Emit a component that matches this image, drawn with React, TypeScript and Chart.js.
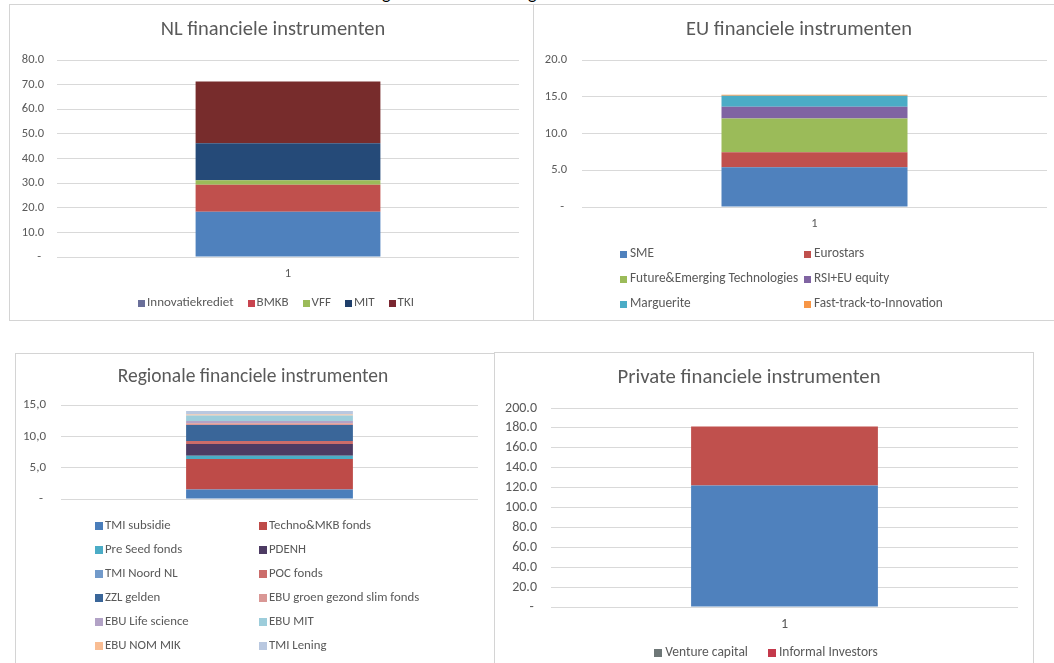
import React, { useEffect, useRef } from "react";
import { Chart, registerables } from "chart.js";

Chart.register(...registerables);

const FONT = "Carlito, Lato, 'Noto Sans', sans-serif";
const TEXT = "#595959";
const GRID = "#d9d9d9";

// ---------- NL financiele instrumenten ----------
const nlCategories = ["1"];
const nlSeries = ["Innovatiekrediet", "BMKB", "VFF", "MIT", "TKI"];
const nlValues = [18.4, 10.9, 1.9, 15.0, 25.1];
const nlBarColors = ["#4f81bd", "#c0504d", "#9bbb59", "#254a78", "#772c2c"];
const nlLegendColors = ["#6a6f9a", "#c8444f", "#9bbb59", "#1f3f6a", "#7a2630"];
const nlAxis = { max: 80, step: 10 };

// ---------- EU financiele instrumenten ----------
const euCategories = ["1"];
const euSeries = [
  "SME",
  "Eurostars",
  "Future&Emerging Technologies",
  "RSI+EU equity",
  "Marguerite",
  "Fast-track-to-Innovation",
];
const euValues = [5.4, 2.05, 4.6, 1.6, 1.48, 0.15];
const euColors = ["#4f81bd", "#c0504d", "#9bbb59", "#8064a2", "#4bacc6", "#f79646"];
const euAxis = { max: 20, step: 5 };

// ---------- Regionale financiele instrumenten ----------
const regCategories = ["1"];
const regSeries = [
  "TMI subsidie",
  "Techno&MKB fonds",
  "Pre Seed fonds",
  "PDENH",
  "TMI Noord NL",
  "POC fonds",
  "ZZL gelden",
  "EBU groen gezond slim fonds",
  "EBU Life science",
  "EBU MIT",
  "EBU NOM MIK",
  "TMI Lening",
];
const regValues = [1.5, 4.9, 0.52, 1.87, 0, 0.48, 2.55, 0.27, 0.37, 0.85, 0.16, 0.59];
const regColors = [
  "#4a7ebb",
  "#be4b48",
  "#4bacc6",
  "#4d3b63",
  "#729aca",
  "#cb6c6a",
  "#3a6699",
  "#d99795",
  "#b2a2c6",
  "#9dcddb",
  "#f9bd93",
  "#b9c8e0",
];
const regAxis = { max: 15, step: 5 };

// ---------- Private financiele instrumenten ----------
const prvCategories = ["1"];
const prvSeries = ["Venture capital", "Informal Investors"];
const prvValues = [122, 59.5];
const prvBarColors = ["#4f81bd", "#c0504d"];
const prvLegendColors = ["#6e7777", "#c4394b"];
const prvAxis = { max: 200, step: 20 };

type LegendCfg = {
  mode: "row" | "grid";
  y: number;
  centerX?: number;
  gap?: number;
  cols?: number[];
  rowH?: number;
  box: number;
  boxGap: number;
  size: number;
};

type PanelCfg = {
  left: number;
  top: number;
  w: number;
  h: number;
  title: string;
  titleX: number;
  titleY: number;
  titleSize: number;
  categories: string[];
  series: string[];
  values: number[];
  barColors: string[];
  legendColors: string[];
  axis: { max: number; step: number };
  comma: boolean;
  showX: boolean;
  yWidth: number;
  yPad: number;
  padTop: number;
  padRight: number;
  padBottom: number;
  xHeight: number;
  tickSize: number;
  legend: LegendCfg;
};

function decorPlugin(cfg: PanelCfg) {
  return {
    id: "decor",
    afterDraw(chart: any) {
      const ctx: CanvasRenderingContext2D = chart.ctx;
      ctx.save();
      ctx.fillStyle = TEXT;
      ctx.textBaseline = "middle";
      ctx.textAlign = "center";
      ctx.font = `${cfg.titleSize}px ${FONT}`;
      ctx.fillText(cfg.title, cfg.titleX, cfg.titleY);

      const lg = cfg.legend;
      ctx.font = `${lg.size}px ${FONT}`;
      ctx.textAlign = "left";
      const items = cfg.series.map((s, i) => ({ label: s, color: cfg.legendColors[i] }));
      if (lg.mode === "row") {
        const widths = items.map((it) => lg.box + lg.boxGap + ctx.measureText(it.label).width);
        const total = widths.reduce((a, b) => a + b, 0) + (lg.gap || 0) * (items.length - 1);
        let x = (lg.centerX || 0) - total / 2;
        items.forEach((it, i) => {
          ctx.fillStyle = it.color;
          ctx.fillRect(Math.round(x), Math.round(lg.y - lg.box / 2), lg.box, lg.box);
          ctx.fillStyle = TEXT;
          ctx.fillText(it.label, x + lg.box + lg.boxGap, lg.y);
          x += widths[i] + (lg.gap || 0);
        });
      } else {
        items.forEach((it, i) => {
          const col = i % 2;
          const row = Math.floor(i / 2);
          const x = (lg.cols || [0, 0])[col];
          const y = lg.y + row * (lg.rowH || 20);
          ctx.fillStyle = it.color;
          ctx.fillRect(x, Math.round(y - lg.box / 2), lg.box, lg.box);
          ctx.fillStyle = TEXT;
          ctx.fillText(it.label, x + lg.box + lg.boxGap, y);
        });
      }
      ctx.restore();
    },
  };
}

function Panel({ cfg }: { cfg: PanelCfg }) {
  const ref = useRef<HTMLCanvasElement>(null);
  useEffect(() => {
    const canvas = ref.current!;
    const chart = new Chart(canvas, {
      type: "bar",
      data: {
        labels: cfg.categories,
        datasets: cfg.series.map((s, i) => ({
          label: s,
          data: [cfg.values[i]],
          backgroundColor: cfg.barColors[i],
          borderWidth: 0,
          barPercentage: 0.4,
          categoryPercentage: 1.0,
        })),
      },
      options: {
        responsive: false,
        animation: false,
        events: [],
        layout: {
          padding: { left: 0, top: cfg.padTop, right: cfg.padRight, bottom: cfg.padBottom },
        },
        plugins: {
          legend: { display: false },
          title: { display: false },
          tooltip: { enabled: false },
        },
        scales: {
          x: {
            stacked: true,
            display: cfg.showX,
            grid: { display: false, drawTicks: false },
            border: { display: false },
            ticks: {
              color: TEXT,
              font: { family: FONT, size: cfg.tickSize },
              padding: 9,
            },
            afterFit: (s: any) => {
              s.height = cfg.xHeight;
            },
          },
          y: {
            stacked: true,
            min: 0,
            max: cfg.axis.max,
            grid: { color: GRID, lineWidth: 1, drawTicks: false },
            border: { display: false },
            ticks: {
              stepSize: cfg.axis.step,
              color: TEXT,
              font: { family: FONT, size: cfg.tickSize },
              padding: cfg.yPad,
              callback: (v: any) => {
                const n = Number(v);
                if (n === 0) return "- ";
                const s = n.toFixed(1);
                return cfg.comma ? s.replace(".", ",") : s;
              },
            },
            afterFit: (s: any) => {
              s.width = cfg.yWidth;
            },
          },
        },
      },
      plugins: [decorPlugin(cfg)],
    });
    return () => chart.destroy();
  }, []);
  return (
    <canvas
      ref={ref}
      width={cfg.w}
      height={cfg.h}
      style={{ position: "absolute", left: cfg.left, top: cfg.top, width: cfg.w, height: cfg.h }}
    />
  );
}

const nlCfg: PanelCfg = {
  left: 9, top: 4, w: 524, h: 316,
  title: "NL financiele instrumenten", titleX: 264, titleY: 26, titleSize: 20.5,
  categories: nlCategories, series: nlSeries, values: nlValues,
  barColors: nlBarColors, legendColors: nlLegendColors, axis: nlAxis,
  comma: false, showX: true, yWidth: 48, yPad: 13,
  padTop: 56, padRight: 14, padBottom: 33, xHeight: 30, tickSize: 12.5,
  legend: { mode: "row", y: 299, centerX: 267, gap: 14, box: 7, boxGap: 2, size: 13 },
};

const euCfg: PanelCfg = {
  left: 533, top: 4, w: 521, h: 316,
  title: "EU financiele instrumenten", titleX: 266, titleY: 26, titleSize: 20.5,
  categories: euCategories, series: euSeries, values: euValues,
  barColors: euColors, legendColors: euColors, axis: euAxis,
  comma: false, showX: true, yWidth: 49, yPad: 15,
  padTop: 56, padRight: 7, padBottom: 83, xHeight: 30, tickSize: 12.5,
  legend: { mode: "grid", y: 250, cols: [87, 271], rowH: 25, box: 7, boxGap: 3, size: 13.3 },
};

const regCfg: PanelCfg = {
  left: 15, top: 353, w: 479, h: 320,
  title: "Regionale financiele instrumenten", titleX: 238, titleY: 24, titleSize: 19.5,
  categories: regCategories, series: regSeries, values: regValues,
  barColors: regColors, legendColors: regColors, axis: regAxis,
  comma: true, showX: false, yWidth: 46, yPad: 15,
  padTop: 52, padRight: 16, padBottom: 174, xHeight: 0, tickSize: 13,
  legend: { mode: "grid", y: 173, cols: [80, 244], rowH: 24, box: 8, boxGap: 2, size: 12.8 },
};

const prvCfg: PanelCfg = {
  left: 494, top: 352, w: 539, h: 320,
  title: "Private financiele instrumenten", titleX: 255, titleY: 26, titleSize: 20.7,
  categories: prvCategories, series: prvSeries, values: prvValues,
  barColors: prvBarColors, legendColors: prvLegendColors, axis: prvAxis,
  comma: false, showX: true, yWidth: 57, yPad: 14,
  padTop: 56, padRight: 15, padBottom: 35, xHeight: 30, tickSize: 14,
  legend: { mode: "row", y: 301, centerX: 272, gap: 20, box: 8, boxGap: 3, size: 13.5 },
};

const border = "1px solid #d4d4d4";

export default function App() {
  return (
    <div
      style={{
        position: "fixed",
        left: 0,
        top: 0,
        width: 1054,
        height: 663,
        overflow: "hidden",
        background: "#ffffff",
      }}
    >
      <span style={{ position: "absolute", left: 382, top: -16, font: `18px ${FONT}`, color: "#000", lineHeight: "18px" }}>g</span>
      <span style={{ position: "absolute", left: 528, top: -16, font: `18px ${FONT}`, color: "#000", lineHeight: "18px" }}>g</span>
      <div style={{ position: "absolute", left: 9, top: 4, width: 525, height: 317, border, boxSizing: "border-box" }} />
      <div style={{ position: "absolute", left: 533, top: 4, width: 540, height: 317, border, boxSizing: "border-box" }} />
      <div style={{ position: "absolute", left: 15, top: 353, width: 480, height: 400, border, boxSizing: "border-box" }} />
      <div style={{ position: "absolute", left: 494, top: 352, width: 540, height: 400, border, boxSizing: "border-box" }} />
      <Panel cfg={nlCfg} />
      <Panel cfg={euCfg} />
      <Panel cfg={regCfg} />
      <Panel cfg={prvCfg} />
    </div>
  );
}
